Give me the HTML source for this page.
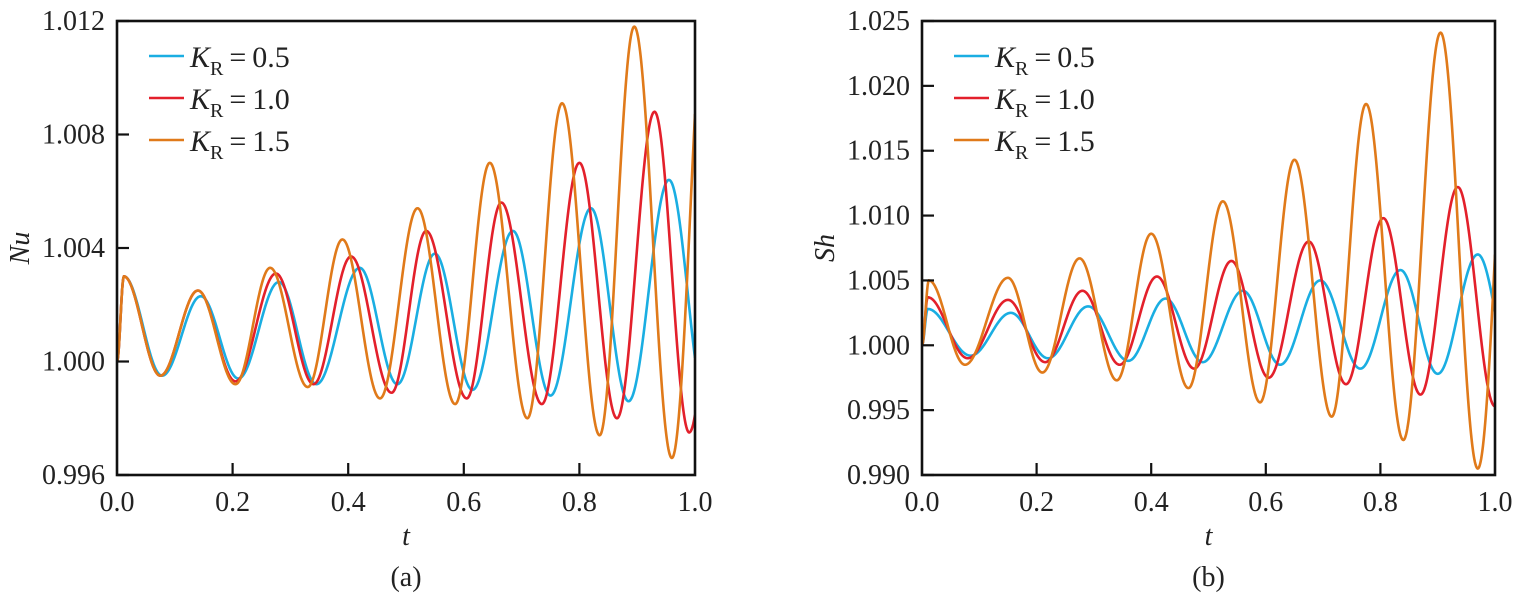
<!DOCTYPE html>
<html><head><meta charset="utf-8"><style>
html,body{margin:0;padding:0;background:#fff;}
svg{display:block;}
text{font-family:"Liberation Serif","DejaVu Serif",serif;}
</style></head><body>
<svg id="s" width="1518" height="598" xmlns="http://www.w3.org/2000/svg">
<defs>
<clipPath id="c1"><rect x="117" y="21" width="578" height="454"/></clipPath>
<clipPath id="c2"><rect x="922" y="21" width="573" height="454"/></clipPath>
</defs>
<g id="g"></g>
</svg>
<script>
const NS="http://www.w3.org/2000/svg";
const g=document.getElementById('g');
const FF='"Liberation Serif","DejaVu Serif",serif';
function el(t,a,txt){const e=document.createElementNS(NS,t);for(const k in a)e.setAttribute(k,a[k]);if(t==='text')e.setAttribute('font-family',FF);if(txt!==undefined)e.textContent=txt;g.appendChild(e);return e;}
const cols=['#1aaee2','#e3202b','#e07a1a'];
function interp(ex,t){for(let i=0;i<ex.length-1;i++){const a=ex[i],b=ex[i+1];if(t>=a[0]&&t<=b[0]){const u=(t-a[0])/(b[0]-a[0]);return a[1]+(b[1]-a[1])*(1-Math.cos(Math.PI*u))/2;}}return ex[ex.length-1][1];}
function panel(o){
 const {x0,x1,y0,y1,ymin,ymax,ticks,ylab,cap,clip,data}=o;
 const X=t=>x0+(x1-x0)*t, Y=v=>y1-(y1-y0)*(v-ymin)/(ymax-ymin);
 data.forEach((ex,i)=>{let d='';for(let k=0;k<=1000;k++){const t=k/1000;d+=(k?'L':'M')+X(t).toFixed(2)+' '+Y(interp(ex,t)).toFixed(2);}
  el('path',{d,fill:'none',stroke:cols[i],'stroke-width':2.6,'clip-path':'url(#'+clip+')'});});
 el('rect',{x:x0,y:y0,width:x1-x0,height:y1-y0,fill:'none',stroke:'#111','stroke-width':2.6});
 ticks.forEach(v=>{const y=Y(v);el('line',{x1:x0,y1:y,x2:x0+12,y2:y,stroke:'#111','stroke-width':2.2});
  el('text',{x:x0-12,y:y+9,'font-size':28,'text-anchor':'end',fill:'#222'},v.toFixed(3));});
 for(let k=0;k<=5;k++){const t=k/5,x=X(t);if(k>0&&k<5)el('line',{x1:x,y1:y1,x2:x,y2:y1-12,stroke:'#111','stroke-width':2.2});
  el('text',{x:x,y:y1+36,'font-size':28,'text-anchor':'middle',fill:'#222'},t.toFixed(1));}
 const xm=(x0+x1)/2;
 el('text',{x:xm,y:545,'font-size':28,'font-style':'italic','text-anchor':'middle',fill:'#222'},'t');
 el('text',{x:xm,y:586,'font-size':28,'text-anchor':'middle',fill:'#222'},cap);
 el('text',{x:0,y:0,'font-size':28,'font-style':'italic','text-anchor':'middle',fill:'#222',transform:`translate(${x0-88},${(y0+y1)/2}) rotate(-90)`},ylab);
 ['0.5','1.0','1.5'].forEach((s,i)=>{const y=56+i*42;
  el('line',{x1:x0+32,y1:y,x2:x0+67,y2:y,stroke:cols[i],'stroke-width':2.6});
  const t=el('text',{x:x0+73,y:y+11,'font-size':30,fill:'#222'});
  const a=document.createElementNS(NS,'tspan');a.setAttribute('font-style','italic');a.textContent='K';t.appendChild(a);
  const b=document.createElementNS(NS,'tspan');b.setAttribute('font-size','20');b.setAttribute('dy','8');b.textContent='R';t.appendChild(b);
  const c=document.createElementNS(NS,'tspan');c.setAttribute('dy','-8');c.textContent='\u2009=\u2009'+s;t.appendChild(c);});
}
panel({x0:117,x1:695,y0:21,y1:475,ymin:0.996,ymax:1.012,ticks:[0.996,1.000,1.004,1.008,1.012],ylab:'Nu',cap:'(a)',clip:'c1',data:[
[[0,1],[0.012,1.003],[0.078,0.9995],[0.145,1.0023],[0.21,0.9994],[0.28,1.0028],[0.345,0.9992],[0.42,1.0033],[0.485,0.9992],[0.55,1.0038],[0.615,0.999],[0.685,1.0046],[0.75,0.9988],[0.82,1.0054],[0.885,0.9986],[0.955,1.0064],[1.02,0.9984]],
[[0,1],[0.012,1.003],[0.075,0.9995],[0.14,1.0025],[0.205,0.9993],[0.275,1.0031],[0.34,0.9992],[0.405,1.0037],[0.475,0.9989],[0.535,1.0046],[0.605,0.9987],[0.665,1.0056],[0.735,0.9985],[0.8,1.007],[0.865,0.998],[0.93,1.0088],[0.99,0.9975],[1.06,1.01]],
[[0,1],[0.012,1.003],[0.075,0.9995],[0.14,1.0025],[0.205,0.9992],[0.265,1.0033],[0.33,0.9991],[0.39,1.0043],[0.455,0.9987],[0.52,1.0054],[0.585,0.9985],[0.645,1.007],[0.71,0.998],[0.77,1.0091],[0.835,0.9974],[0.895,1.0118],[0.96,0.9966],[1.025,1.0145]]]});
panel({x0:922,x1:1495,y0:21,y1:475,ymin:0.990,ymax:1.025,ticks:[0.990,0.995,1.000,1.005,1.010,1.015,1.020,1.025],ylab:'Sh',cap:'(b)',clip:'c2',data:[
[[0,1],[0.01,1.0028],[0.085,0.9992],[0.155,1.0025],[0.22,0.999],[0.29,1.003],[0.36,0.9988],[0.425,1.0036],[0.49,0.9987],[0.56,1.0042],[0.625,0.9985],[0.695,1.005],[0.765,0.9982],[0.835,1.0058],[0.9,0.9978],[0.97,1.007],[1.035,0.997]],
[[0,1],[0.01,1.0037],[0.08,0.999],[0.15,1.0035],[0.215,0.9987],[0.28,1.0042],[0.345,0.9985],[0.41,1.0053],[0.475,0.9982],[0.54,1.0065],[0.605,0.9975],[0.675,1.008],[0.74,0.997],[0.805,1.0098],[0.87,0.9962],[0.935,1.0122],[1.0,0.9953]],
[[0,1],[0.012,1.005],[0.075,0.9985],[0.15,1.0052],[0.21,0.9979],[0.275,1.0067],[0.34,0.9973],[0.4,1.0086],[0.465,0.9967],[0.525,1.0111],[0.59,0.9956],[0.65,1.0143],[0.715,0.9945],[0.775,1.0186],[0.84,0.9927],[0.905,1.0241],[0.97,0.9905],[1.035,1.028]]]});
</script>
</body></html>
